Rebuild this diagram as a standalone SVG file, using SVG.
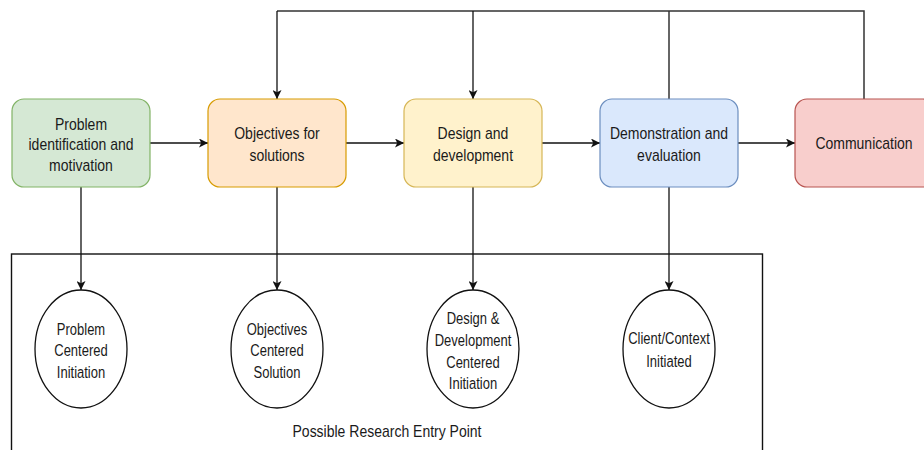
<svg xmlns="http://www.w3.org/2000/svg" width="924" height="450" viewBox="0 0 924 450">
<style>
text{font-family:"Liberation Sans",Arial,Helvetica,sans-serif;font-size:14px;fill:#1a1a1a;text-anchor:middle;transform-box:fill-box;transform-origin:center;transform:scale(1,1.2)}
.et{font-size:13px;transform:scale(1,1.28)}
.box{stroke-width:1.2}
.ell{fill:#fff;stroke:#111;stroke-width:1.3}
.ln{fill:none;stroke:#111;stroke-width:1.3}
.top{fill:none;stroke:#333;stroke-width:1.5}
</style>
<defs>
<marker id="ah" viewBox="0 0 10 10" refX="10" refY="5" markerWidth="9" markerHeight="9" markerUnits="userSpaceOnUse" orient="auto">
<path d="M0,0 L10,5 L0,10 L2.5,5 Z" fill="#111"/>
</marker>
</defs>
<rect id="entry-frame" x="11.5" y="254" width="751" height="220" fill="none" stroke="#111" stroke-width="1.4"/>
<g id="connectors">
<path class="top" d="M277,11 H864 V99"/>
<path class="ln" d="M277,11 V99" marker-end="url(#ah)"/>
<path class="ln" d="M473,11 V99" marker-end="url(#ah)"/>
<path class="top" d="M669,11 V99"/>
<path class="ln" d="M150,143 H208" marker-end="url(#ah)"/>
<path class="ln" d="M346,143 H404" marker-end="url(#ah)"/>
<path class="ln" d="M542,143 H600" marker-end="url(#ah)"/>
<path class="ln" d="M738,143 H795" marker-end="url(#ah)"/>
<path class="ln" d="M81,187 V290" marker-end="url(#ah)"/>
<path class="ln" d="M277,187 V290" marker-end="url(#ah)"/>
<path class="ln" d="M473,187 V290" marker-end="url(#ah)"/>
<path class="ln" d="M669,187 V290" marker-end="url(#ah)"/>
</g>
<g id="problem">
<rect class="box" x="12" y="99" width="138" height="88" rx="12" fill="#d5e8d4" stroke="#82b366"/>
<text x="81" y="129">Problem</text>
<text x="81" y="149">identification and</text>
<text x="81" y="170">motivation</text>
</g>
<g id="objectives">
<rect class="box" x="208" y="99" width="138" height="88" rx="12" fill="#ffe6cc" stroke="#d79b00"/>
<text x="277" y="138">Objectives for</text>
<text x="277" y="160">solutions</text>
</g>
<g id="design">
<rect class="box" x="404" y="99" width="138" height="88" rx="12" fill="#fff2cc" stroke="#d6b656"/>
<text x="473" y="138">Design and</text>
<text x="473" y="160">development</text>
</g>
<g id="demonstration">
<rect class="box" x="600" y="99" width="138" height="88" rx="12" fill="#dae8fc" stroke="#6c8ebf"/>
<text x="669" y="138">Demonstration and</text>
<text x="669" y="160">evaluation</text>
</g>
<g id="communication">
<rect class="box" x="795" y="99" width="140" height="88" rx="12" fill="#f8cecc" stroke="#b85450"/>
<text x="864" y="148">Communication</text>
</g>
<g id="e-problem">
<ellipse class="ell" cx="81" cy="349" rx="46" ry="59"/>
<text class="et" x="81" y="334">Problem</text>
<text class="et" x="81" y="355">Centered</text>
<text class="et" x="81" y="377">Initiation</text>
</g>
<g id="e-objectives">
<ellipse class="ell" cx="277" cy="349" rx="46" ry="59"/>
<text class="et" x="277" y="334">Objectives</text>
<text class="et" x="277" y="355">Centered</text>
<text class="et" x="277" y="377">Solution</text>
</g>
<g id="e-design">
<ellipse class="ell" cx="473" cy="349" rx="46" ry="59"/>
<text class="et" x="473" y="323">Design &amp;</text>
<text class="et" x="473" y="345">Development</text>
<text class="et" x="473" y="367">Centered</text>
<text class="et" x="473" y="388">Initiation</text>
</g>
<g id="e-client">
<ellipse class="ell" cx="669" cy="349" rx="46" ry="59"/>
<text class="et" x="669" y="343">Client/Context</text>
<text class="et" x="669" y="366">Initiated</text>
</g>
<g id="entry-label">
<text x="387" y="436">Possible Research Entry Point</text>
</g>
</svg>
